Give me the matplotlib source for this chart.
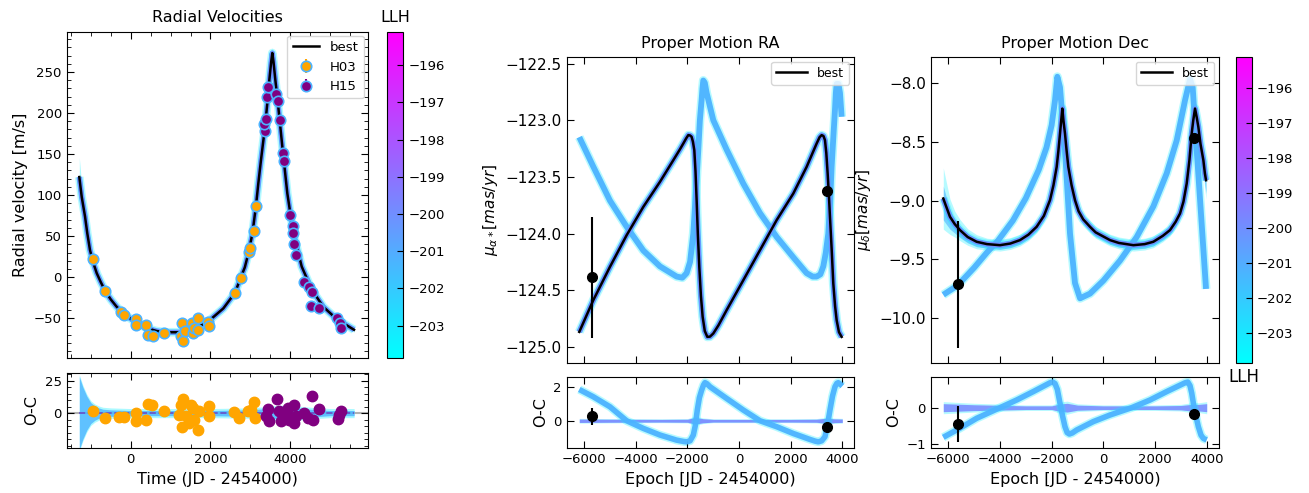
import numpy as np
import matplotlib
matplotlib.use("Agg")
import matplotlib.pyplot as plt
from matplotlib.colors import Normalize
from matplotlib.cm import ScalarMappable
from matplotlib.ticker import MultipleLocator

# ---------------- data ----------------
# Radial velocity: best-fit model curve
rv_model_t = [-1288, -1228, -1145, -1088, -1020, -940, -852, -750, -636, -500, -351, -180,
              -18, 200, 401, 650, 902, 1236, 1654, 1987, 2321, 2614, 2757, 2860, 2948, 3050,
              3140, 3198, 3266, 3366, 3420, 3474, 3520, 3549, 3580, 3617, 3700, 3809, 3926,
              4075, 4286, 4536, 4827, 5163, 5597]
rv_model = [122, 98, 74, 53.5, 33, 18, 5, -6, -17, -27, -36, -44,
            -50, -57, -62, -65.5, -67, -67, -62, -52, -38, -19, -0.5, 12, 29, 53,
            87, 114, 143, 183, 210, 240, 262, 273, 262, 244, 207, 155, 102,
            54, 13, -15, -36, -51, -64]
rv_spread = [24, 14, 7, 5, 4, 3, 3, 3, 3, 3, 3, 3,
             3, 3, 3, 3, 3, 3, 3, 3, 3, 3, 3, 3, 3, 3,
             3, 4, 4, 5, 5, 6, 6, 7, 6, 6, 5, 4, 4,
             3, 3, 3, 3, 3, 3]

# RV measurements
h03_t = [-952, -636, -243, -168, 125, 133, 376, 441, 551, 827, 1278, 1261, 1303, 1361,
         1529, 1554, 1594, 1694, 1694, 1945, 1962, 2614, 2757, 2973, 2990, 3090, 3140]
h03_rv = [21.9, -16.7, -41.8, -45.8, -51, -58, -58, -70, -71.4, -68, -56, -72, -78, -66,
          -56, -68, -62, -50, -64, -54, -60, -18.7, -0.5, 30.4, 35, 56.3, 86.7]
h15_t = [3366, 3349, 3383, 3416, 3449, 3642, 3683, 3742, 3809, 3850, 3992, 4060, 4075,
         4100, 4135, 4343, 4469, 4551, 4519, 4719, 5178, 5246, 5263]
h15_rv = [177.9, 187, 193, 219.6, 231.8, 223.7, 214.7, 191.3, 151.5, 141.4, 75.8, 62.4, 54.2,
          40.1, 27.1, -5.3, -12.2, -17.5, -34.9, -37.7, -49.9, -55.2, -61.3]
H03_ERR = 2.5
H15_ERR = 2.5

# RV residuals
h03_oc_t = [-953, -636, -286, -160, 133, 133, 383, 426, 534, 842, 1261, 1303, 1218, 1286,
            1386, 1511, 1554, 1594, 1469, 1679, 1719, 1954, 1970, 2597, 2722, 2932, 3098,
            3123, 3015]
h03_oc = [1.3, -3.8, -3.3, -3.3, 0, -6.4, -5.1, 6.9, 6.4, 1.3, 6.4, 10.7, -1.3, -10.7,
          -2.6, 6.4, 3.8, -5.1, -7.7, -12.8, 1.3, 5.1, -2, 0.5, -3.8, 1.3, 8.9, -3.8, 2.6]
h15_oc_t = [3433, 3391, 3474, 3659, 3725, 3767, 3892, 3934, 3976, 4101, 4143, 4101, 4351,
            4436, 4544, 4561, 4727, 5188, 5271, 5213]
h15_oc = [3.1, -2.6, -6.4, 10.7, 1.3, -6.4, -1.3, 3.8, -5.1, 6.4, -2.6, -7.7, 0,
          -3.8, 13.3, -5.1, 3.1, -4.6, 1.3, -1.3]
rv_oc_band_t = [-1288, -1200, -1100, -1000, -900, -800, -700, -500, 0, 1000, 2000, 3000,
                3400, 3700, 4000, 4500, 5000, 5600]
rv_oc_band_hw = [28, 20, 13, 8, 5.5, 4, 3, 2.5, 2, 2, 2, 2.5, 3.5, 4.5, 4.5, 3, 2, 2]

# Proper motion RA
ra_best_t = [-6194, -5651, -5005, -4359, -3713, -3067, -2550, -2300, -2163, -2050, -1969,
             -1900, -1840, -1790, -1736, -1690, -1646, -1600, -1543, -1480, -1413, -1330,
             -1232, -1130, -1000, -800, -483, 163, 809, 1455, 2101, 2618, 3005, 3120, 3199,
             3270, 3328, 3380, 3432, 3480, 3522, 3590, 3651, 3720, 3781, 3870, 3974]
ra_best = [-124.868, -124.588, -124.294, -124.015, -123.765, -123.544, -123.353, -123.26,
           -123.206, -123.16, -123.132, -123.135, -123.147, -123.19, -123.265, -123.45,
           -123.706, -124.0, -124.294, -124.55, -124.735, -124.86, -124.912, -124.91,
           -124.882, -124.81, -124.676, -124.412, -124.147, -123.882, -123.647, -123.412,
           -123.206, -123.15, -123.132, -123.14, -123.176, -123.29, -123.471, -123.66,
           -123.853, -124.15, -124.441, -124.64, -124.765, -124.87, -124.912]
ra_alt_t = [-6194, -5651, -5005, -4359, -3713, -3067, -2421, -2200, -2034, -1900, -1775,
            -1680, -1581, -1520, -1452, -1420, -1388, -1330, -1258, -1000, -483, 163, 809,
            1455, 2101, 2618, 2850, 3005, 3150, 3263, 3360, 3457, 3530, 3586, 3660, 3716,
            3750, 3781, 3850, 3910, 3974]
ra_alt = [-123.15, -123.41, -123.71, -123.94, -124.15, -124.29, -124.38, -124.39, -124.35,
          -124.25, -124.0, -123.65, -123.26, -123.0, -122.82, -122.72, -122.65, -122.67,
          -122.76, -123.0, -123.26, -123.56, -123.82, -124.03, -124.21, -124.35, -124.38,
          -124.38, -124.36, -124.29, -124.17, -124.0, -123.72, -123.41, -123.12, -122.91,
          -122.76, -122.68, -122.68, -122.76, -122.97]
ra_obs_t = [-5716, 3393]
ra_obs = [-124.388, -123.624]
ra_obs_err = [0.53, 0.02]
ra_oc_alt_t = [-6194, -5651, -5005, -4359, -3713, -3067, -2421, -2150, -2034, -1900, -1775,
               -1700, -1620, -1540, -1452, -1380, -1323, -1250, -1129, -483, 163, 809,
               1455, 2101, 2747, 2950, 3070, 3200, 3328, 3420, 3522, 3620, 3716, 3790,
               3845, 3920, 4000]
ra_oc_alt = [1.84, 1.41, 0.82, 0.0, -0.45, -0.84, -1.14, -1.22, -1.24, -1.18, -0.84,
             -0.3, 0.63, 1.35, 1.80, 2.1, 2.24, 2.18, 2.0, 1.31, 0.63, 0.0,
             -0.35, -0.75, -1.10, -1.20, -1.24, -1.18, -0.94, -0.3, 0.63, 1.45, 2.0, 2.2,
             2.24, 2.15, 2.04]
ra_oc_obs = [0.27, -0.35]
ra_oc_obs_err = [0.5, 0.02]

# Proper motion Dec
dec_best_t = [-6194, -6100, -5935, -5750, -5548, -5250, -4903, -4500, -4000, -3600, -3226,
              -2900, -2581, -2300, -2065, -1930, -1806, -1740, -1677, -1630, -1587, -1545,
              -1484, -1420, -1355, -1230, -1097, -960, -780, -516, -300, 258, 600, 1161,
              1600, 1935, 2300, 2581, 2800, 2968, 3100, 3226, 3330, 3419, 3480, 3548, 3610,
              3677, 3760, 3871, 3930, 3974]
dec_best = [-8.983, -9.04, -9.138, -9.20, -9.251, -9.31, -9.350, -9.37, -9.379, -9.365,
            -9.336, -9.29, -9.223, -9.13, -8.997, -8.87, -8.715, -8.58, -8.432, -8.32,
            -8.220, -8.32, -8.432, -8.58, -8.715, -8.87, -8.997, -9.09, -9.16, -9.223,
            -9.27, -9.336, -9.36, -9.379, -9.37, -9.350, -9.30, -9.251, -9.18, -9.110,
            -9.01, -8.856, -8.66, -8.432, -8.32, -8.220, -8.29, -8.376, -8.52, -8.658,
            -8.77, -8.828]
dec_spread = [0.26, 0.22, 0.15, 0.11, 0.09, 0.07, 0.06, 0.05, 0.05, 0.05, 0.05,
              0.05, 0.05, 0.05, 0.05, 0.05, 0.05, 0.05, 0.05, 0.05, 0.05, 0.05,
              0.05, 0.05, 0.05, 0.05, 0.05, 0.05, 0.05, 0.05, 0.05, 0.05, 0.05, 0.05,
              0.05, 0.05, 0.05, 0.05, 0.05, 0.05, 0.05, 0.05, 0.05, 0.05, 0.05, 0.06, 0.07,
              0.08, 0.10, 0.12, 0.14, 0.16]
dec_alt_t = [-6194, -5639, -5000, -4500, -4076, -3500, -3000, -2500, -2200, -2000, -1870,
             -1780, -1677, -1484, -1290, -1097, -903, -516, 0, 645, 1290, 1935, 2452, 2839,
             3161, 3355, 3458, 3613, 3806, 3974]
dec_alt = [-9.80, -9.72, -9.57, -9.44, -9.34, -9.17, -8.98, -8.74, -8.55, -8.36, -8.15,
           -7.95, -8.04, -8.57, -9.28, -9.70, -9.83, -9.79, -9.68, -9.51, -9.31, -9.05,
           -8.77, -8.49, -8.15, -7.97, -8.04, -8.57, -9.20, -9.75]
dec_obs_t = [-5639, 3523]
dec_obs = [-9.712, -8.469]
dec_obs_err = [0.537, 0.02]
dec_oc_alt_t = [-6194, -5548, -4903, -4000, -3355, -2710, -2065, -1960, -1871, -1780, -1677,
                -1580, -1484, -1400, -1316, -1200, -1032, -387, 258, 1097, 1806, 2452, 3161,
                3270, 3355, 3420, 3484, 3580, 3677, 3780, 3871, 4000]
dec_oc_alt = [-0.81, -0.56, -0.29, 0.0, 0.21, 0.44, 0.68, 0.70, 0.66, 0.50, 0.12,
              -0.22, -0.52, -0.68, -0.72, -0.69, -0.61, -0.38, -0.2, 0.0, 0.21, 0.44, 0.68,
              0.70, 0.60, 0.40, 0.12, -0.22, -0.52, -0.75, -0.84, -0.88]
dec_oc_obs = [-0.45, -0.17]
dec_oc_obs_err = [0.5, 0.02]

# band half-widths around zero for proper-motion residuals
pm_oc_band_t = [-6194, -5000, -3000, -2000, -1700, -1400, -1000, 0, 2000, 3000, 3400, 3700, 4000]
ra_oc_band_hw = [0.10, 0.09, 0.08, 0.09, 0.20, 0.12, 0.08, 0.08, 0.08, 0.09, 0.15, 0.11, 0.10]
dec_oc_band_hw = [0.11, 0.08, 0.05, 0.05, 0.10, 0.12, 0.07, 0.05, 0.05, 0.06, 0.09, 0.09, 0.11]

LLH_MIN, LLH_MAX = -203.86, -195.1
llh_ticks = [-203, -202, -201, -200, -199, -198, -197, -196]

# ---------------- figure ----------------
W, H = 1309, 493
fig = plt.figure(figsize=(W / 100, H / 100), dpi=100)


def ax_px(x0, y0, x1, y1):
    return fig.add_axes([x0 / W, 1 - y1 / H, (x1 - x0) / W, (y1 - y0) / H])


cmap = plt.get_cmap("cool")
norm = Normalize(vmin=LLH_MIN, vmax=LLH_MAX)
c_edge = cmap(0.06)
c_band = cmap(0.30)
c_core = cmap(0.47)


def band(ax, x, y, core=False, lw=4.2):
    ax.plot(x, y, color=c_edge, lw=lw + 2.2, alpha=0.3, solid_capstyle="butt", zorder=1)
    ax.plot(x, y, color=c_band, lw=lw, alpha=0.95, solid_capstyle="butt", zorder=2)
    if core:
        ax.plot(x, y, color=c_core, lw=lw * 0.8, alpha=0.9, solid_capstyle="butt", zorder=3)


def style(ax, labelsize=9.5):
    ax.tick_params(direction="in", top=True, right=True, which="both", labelsize=labelsize)
    ax.tick_params(which="major", length=5)
    ax.tick_params(which="minor", length=3)


# ---- Radial velocity ----
ax_rv = ax_px(66.7, 31.7, 367.7, 357.7)
ax_rvoc = ax_px(66.7, 372.7, 367.7, 448.3)
cax1 = ax_px(386.7, 31.7, 403.3, 357.7)

t = np.array(rv_model_t, float)
m = np.array(rv_model, float)
s = np.array(rv_spread, float)
ax_rv.fill_between(t, m - s, m + s, color=c_edge, alpha=0.35, lw=0, zorder=1)
band(ax_rv, t, m, core=True, lw=4)
ax_rv.plot(t, m, color="black", lw=1.8, zorder=5, label="best")
ax_rv.errorbar(h03_t, h03_rv, yerr=H03_ERR, fmt="o", color="orange", ms=7.5, mec=c_band,
               mew=1.2, ecolor="orange", zorder=6, label="H03")
ax_rv.errorbar(h15_t, h15_rv, yerr=H15_ERR, fmt="o", color="purple", ms=7.5, mec=c_band,
               mew=1.2, ecolor="purple", zorder=6, label="H15")
ax_rv.set_xlim(-1604, 5940)
ax_rv.set_ylim(-98, 299)
ax_rv.set_yticks([-50, 0, 50, 100, 150, 200, 250])
ax_rv.xaxis.set_major_locator(MultipleLocator(2000))
ax_rv.xaxis.set_minor_locator(MultipleLocator(500))
ax_rv.yaxis.set_minor_locator(MultipleLocator(10))
ax_rv.set_xticklabels([])
ax_rv.set_ylabel("Radial velocity [m/s]", fontsize=11.5)
ax_rv.set_title("Radial Velocities", fontsize=11.5, pad=7)
style(ax_rv)
ax_rv.legend(loc="upper right", fontsize=9.5, borderaxespad=0.3, handlelength=2.0)

bt = np.array(rv_oc_band_t, float)
bh = np.array(rv_oc_band_hw, float)
ax_rvoc.axhline(0, color="gray", lw=1.5, alpha=0.6, zorder=0)
ax_rvoc.fill_between(bt, -bh - 1.5, bh + 1.5, color=c_edge, alpha=0.35, lw=0, zorder=1)
ax_rvoc.fill_between(bt, -bh, bh, color=c_band, alpha=0.8, lw=0, zorder=2)
ax_rvoc.plot([rv_model_t[0], rv_model_t[-1]], [0, 0], color="#6a4fc8", lw=1.2,
             ls="--", zorder=3)
ax_rvoc.errorbar(h03_oc_t, h03_oc, yerr=H03_ERR, fmt="o", color="orange", ms=7.5,
                 ecolor="orange", zorder=6)
ax_rvoc.errorbar(h15_oc_t, h15_oc, yerr=H15_ERR, fmt="o", color="purple", ms=7.5,
                 ecolor="purple", zorder=6)
ax_rvoc.set_xlim(-1604, 5940)
ax_rvoc.set_ylim(-27, 31)
ax_rvoc.set_yticks([0, 25])
ax_rvoc.xaxis.set_major_locator(MultipleLocator(2000))
ax_rvoc.xaxis.set_minor_locator(MultipleLocator(500))
ax_rvoc.yaxis.set_minor_locator(MultipleLocator(5))
ax_rvoc.set_xlabel("Time (JD - 2454000)", fontsize=11.5)
ax_rvoc.set_ylabel("O-C", fontsize=11.5)
style(ax_rvoc)

sm = ScalarMappable(norm=norm, cmap=cmap)
cb1 = fig.colorbar(sm, cax=cax1, ticks=llh_ticks)
cb1.ax.tick_params(labelsize=9.5, direction="in", length=4)
cax1.set_title("LLH", fontsize=11.5, pad=7)

# ---- Proper motion RA ----
ax_ra = ax_px(566.7, 56.7, 854.3, 362.7)
ax_raoc = ax_px(566.7, 376.7, 854.3, 448.3)

band(ax_ra, ra_alt_t, ra_alt)
band(ax_ra, ra_best_t, ra_best, core=True)
ax_ra.plot(ra_best_t, ra_best, color="black", lw=1.8, zorder=5, label="best")
ax_ra.errorbar(ra_obs_t, ra_obs, yerr=ra_obs_err, fmt="o", color="black", ms=7,
               elinewidth=1.5, zorder=6)
ax_ra.set_xlim(-6682, 4465)
ax_ra.set_ylim(-125.14, -122.44)
ax_ra.set_xticks([-6000, -4000, -2000, 0, 2000, 4000])
ax_ra.set_yticks([-125.0, -124.5, -124.0, -123.5, -123.0, -122.5])
ax_ra.set_xticklabels([])
ax_ra.set_ylabel(r"$\mu_{\alpha*} [mas/yr]$", fontsize=11)
ax_ra.set_title("Proper Motion RA", fontsize=11.5, pad=6)
style(ax_ra, labelsize=11)
ax_ra.legend(loc="upper right", fontsize=9, borderaxespad=0.4, handlelength=2.5)

pt = np.array(pm_oc_band_t, float)
rh = np.array(ra_oc_band_hw, float)
ax_raoc.fill_between(pt, -rh * 1.4, rh * 1.4, color=c_edge, alpha=0.3, lw=0, zorder=1)
ax_raoc.fill_between(pt, -rh, rh, color=c_core, alpha=0.9, lw=0, zorder=1)
band(ax_raoc, ra_oc_alt_t, ra_oc_alt, lw=4.0)
ax_raoc.errorbar(ra_obs_t, ra_oc_obs, yerr=ra_oc_obs_err, fmt="o", color="black", ms=7,
                 elinewidth=1.5, zorder=6)
ax_raoc.set_xlim(-6682, 4465)
ax_raoc.set_ylim(-1.62, 2.59)
ax_raoc.set_xticks([-6000, -4000, -2000, 0, 2000, 4000])
ax_raoc.set_yticks([0, 2])
ax_raoc.set_xlabel("Epoch [JD - 2454000)", fontsize=11.5)
ax_raoc.set_ylabel("O-C", fontsize=11.5)
style(ax_raoc)

# ---- Proper motion Dec ----
ax_de = ax_px(930.7, 56.7, 1219, 362.7)
ax_deoc = ax_px(930.7, 376.7, 1219, 448.3)
cax2 = ax_px(1235.7, 56.7, 1251.7, 362.7)

dt = np.array(dec_best_t, float)
dm = np.array(dec_best, float)
ds = np.array(dec_spread, float)
ax_de.fill_between(dt, dm - ds, dm + ds, color=c_edge, alpha=0.3, lw=0, zorder=1)
ax_de.fill_between(dt, dm - ds * 0.7, dm + ds * 0.4, color=c_band, alpha=0.6, lw=0, zorder=1)
band(ax_de, dec_alt_t, dec_alt)
band(ax_de, dec_best_t, dec_best, core=True)
ax_de.plot(dec_best_t, dec_best, color="black", lw=1.8, zorder=5, label="best")
ax_de.errorbar(dec_obs_t, dec_obs, yerr=dec_obs_err, fmt="o", color="black", ms=7,
               elinewidth=1.5, zorder=6)
ax_de.set_xlim(-6681, 4476)
ax_de.set_ylim(-10.376, -7.78)
ax_de.set_xticks([-6000, -4000, -2000, 0, 2000, 4000])
ax_de.set_yticks([-10.0, -9.5, -9.0, -8.5, -8.0])
ax_de.set_xticklabels([])
ax_de.set_ylabel(r"$\mu_{\delta} [mas/yr]$", fontsize=11)
ax_de.yaxis.set_label_coords(-0.2, 0.5)
ax_de.set_title("Proper Motion Dec", fontsize=11.5, pad=6)
style(ax_de, labelsize=11)
ax_de.legend(loc="upper right", fontsize=9, borderaxespad=0.4, handlelength=2.5)

dh = np.array(dec_oc_band_hw, float)
ax_deoc.fill_between(pt, -dh * 1.5, dh * 1.5, color=c_edge, alpha=0.3, lw=0, zorder=1)
ax_deoc.fill_between(pt, -dh, dh, color=c_core, alpha=0.85, lw=0, zorder=1)
band(ax_deoc, dec_oc_alt_t, dec_oc_alt, lw=4.0)
ax_deoc.errorbar(dec_obs_t, dec_oc_obs, yerr=dec_oc_obs_err, fmt="o", color="black", ms=7,
                 elinewidth=1.5, zorder=6)
ax_deoc.set_xlim(-6681, 4476)
ax_deoc.set_ylim(-1.11, 0.847)
ax_deoc.set_xticks([-6000, -4000, -2000, 0, 2000, 4000])
ax_deoc.set_yticks([-1, 0])
ax_deoc.set_xlabel("Epoch [JD - 2454000)", fontsize=11.5)
ax_deoc.set_ylabel("O-C", fontsize=11.5)
style(ax_deoc)

cb2 = fig.colorbar(sm, cax=cax2, ticks=llh_ticks)
cb2.ax.tick_params(labelsize=9.5, direction="in", length=4)
cax2.set_xlabel("LLH", fontsize=12)

fig.savefig("out.png", dpi=100)
